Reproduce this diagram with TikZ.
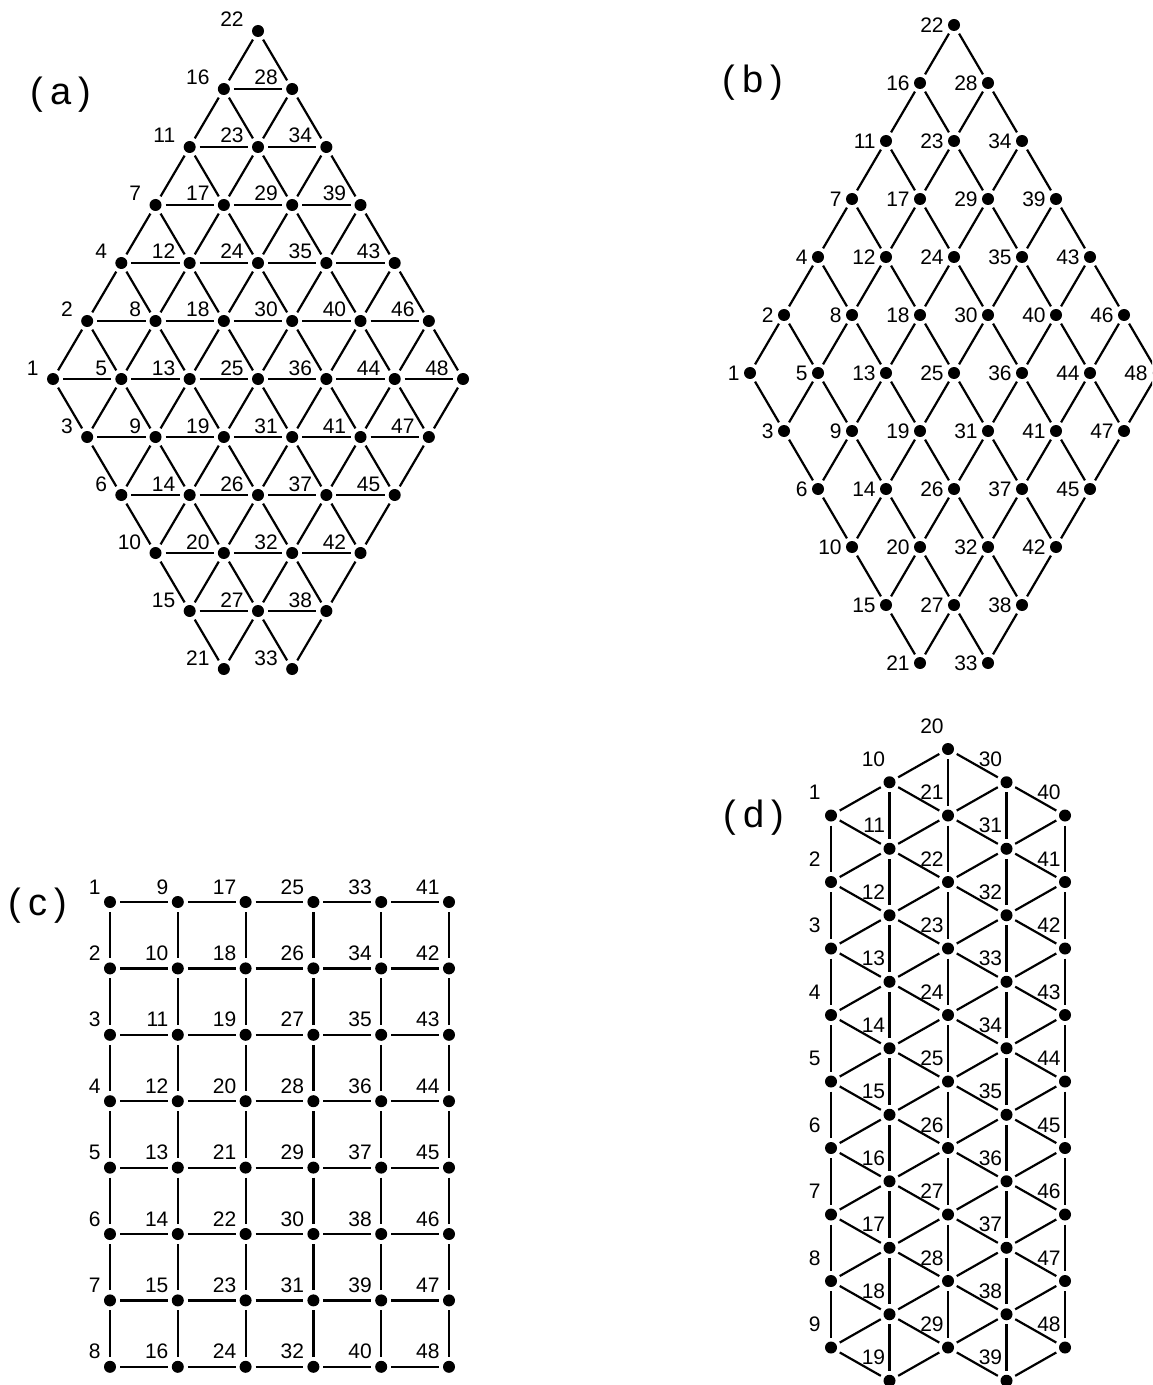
\documentclass[tikz,border=0pt]{standalone}
\usepackage{fontspec}
\setmainfont{Liberation Sans}
\tikzset{
    site/.style={circle,fill=black,inner sep=0pt,minimum size=6pt,outer sep=2pt},
    bond/.style={line width=1.1pt},
    num/.style={inner sep=0pt,font=\fontsize{10.5}{12}\selectfont},
    panel/.style={inner sep=0pt,font=\fontsize{19}{21}\selectfont}
}
\begin{document}
\begin{tikzpicture}[x=0.5pt,y=-0.5pt]
    \useasboundingbox (0,0) rectangle (1152,1385);
    \clip (0,0) rectangle (1152,1385);

    \node[panel] (ta) at (61,95) {(\hspace{3.5pt}a\hspace{3.5pt})};
    \node[panel] (tb) at (753,83) {(\hspace{3.5pt}b\hspace{3.5pt})};
    \node[panel] (tc) at (38,906) {(\hspace{3.5pt}c\hspace{3.5pt})};
    \node[panel] (td) at (754,818) {(\hspace{3.5pt}d\hspace{3.5pt})};

    % (a) and (b): same sites, column by column
    \foreach \i/\kmin/\cnt/\first in {0/0/0/1,1/-2/1/2,2/-4/2/4,3/-6/3/7,4/-8/4/11,5/-10/5/16,6/-12/5/22,7/-10/5/28,8/-8/4/34,9/-6/3/39,10/-4/2/43,11/-2/1/46,12/0/0/48} {
        \foreach \m in {0,...,\cnt} {
            \pgfmathtruncatemacro{\kk}{\kmin+4*\m}
            \pgfmathtruncatemacro{\row}{(\kk+12)/2}
            \pgfmathtruncatemacro{\lab}{\first+\m}
            \node[site] (a\i-\row) at ({53+34.17*\i},{379+29*\kk}) {};
            \node[num,anchor=base east] (a\i-\row-n) at ({39+34.17*\i},{375+29*\kk}) {\lab};
            \node[site] (b\i-\row) at ({750+34*\i},{373+29*\kk}) {};
            \node[num,anchor=east] (b\i-\row-n) at ({740+34*\i},{373+29*\kk}) {\lab};
        }
    }
    \foreach \i in {0,...,11} {
        \foreach \row in {0,...,12} {
            \ifcsname pgf@sh@ns@a\i-\row\endcsname
                \pgfmathtruncatemacro{\ii}{\i+1}
                \pgfmathtruncatemacro{\iii}{\i+2}
                \pgfmathtruncatemacro{\up}{\row-1}
                \pgfmathtruncatemacro{\dn}{\row+1}
                \ifcsname pgf@sh@ns@a\ii-\up\endcsname
                    \draw[bond] (a\i-\row) -- (a\ii-\up);
                    \draw[bond] (b\i-\row) -- (b\ii-\up);
                \fi
                \ifcsname pgf@sh@ns@a\ii-\dn\endcsname
                    \draw[bond] (a\i-\row) -- (a\ii-\dn);
                    \draw[bond] (b\i-\row) -- (b\ii-\dn);
                \fi
                \ifnum\row<11
                    \ifcsname pgf@sh@ns@a\iii-\row\endcsname
                        \draw[bond] (a\i-\row) -- (a\iii-\row);
                    \fi
                \fi
            \fi
        }
    }

    % (c)
    \foreach \j in {0,...,5} {
        \foreach \row in {0,...,7} {
            \pgfmathtruncatemacro{\lab}{8*\j+\row+1}
            \node[site] (c\j-\row) at ({110+67.8*\j},{902+66.4*\row}) {};
            \node[num,anchor=base east] (c\j-\row-n) at ({101+67.8*\j},{894+66.4*\row}) {\lab};
        }
    }
    \foreach \j in {0,...,5} {
        \foreach \row in {0,...,7} {
            \pgfmathtruncatemacro{\jj}{\j+1}
            \pgfmathtruncatemacro{\dn}{\row+1}
            \ifnum\j<5 \draw[bond] (c\j-\row) -- (c\jj-\row); \fi
            \ifnum\row<7 \draw[bond] (c\j-\row) -- (c\j-\dn); \fi
        }
    }

    % (d)
    \foreach \col/\hmin/\cnt/\first in {0/2/8/1,1/1/9/10,2/0/9/20,3/1/9/30,4/2/8/40} {
        \foreach \m in {0,...,\cnt} {
            \pgfmathtruncatemacro{\hh}{\hmin+2*\m}
            \pgfmathtruncatemacro{\lab}{\first+\m}
            \pgfmathsetmacro{\dx}{\col==0 ? 10 : 4}
            \node[site] (d\col-\hh) at ({831+58.5*\col},{749+33.25*\hh}) {};
            \node[num,anchor=base east] (d\col-\hh-n) at ({831+58.5*\col-\dx},{733+33.25*\hh}) {\lab};
        }
    }
    \foreach \col in {0,...,4} {
        \foreach \hh in {0,...,19} {
            \ifcsname pgf@sh@ns@d\col-\hh\endcsname
                \pgfmathtruncatemacro{\nc}{\col+1}
                \pgfmathtruncatemacro{\hu}{\hh-1}
                \pgfmathtruncatemacro{\hd}{\hh+1}
                \pgfmathtruncatemacro{\hv}{\hh+2}
                \ifcsname pgf@sh@ns@d\col-\hv\endcsname
                    \draw[bond] (d\col-\hh) -- (d\col-\hv);
                \fi
                \ifcsname pgf@sh@ns@d\nc-\hu\endcsname
                    \draw[bond] (d\col-\hh) -- (d\nc-\hu);
                \fi
                \ifcsname pgf@sh@ns@d\nc-\hd\endcsname
                    \draw[bond] (d\col-\hh) -- (d\nc-\hd);
                \fi
            \fi
        }
    }
\end{tikzpicture}
\end{document}
